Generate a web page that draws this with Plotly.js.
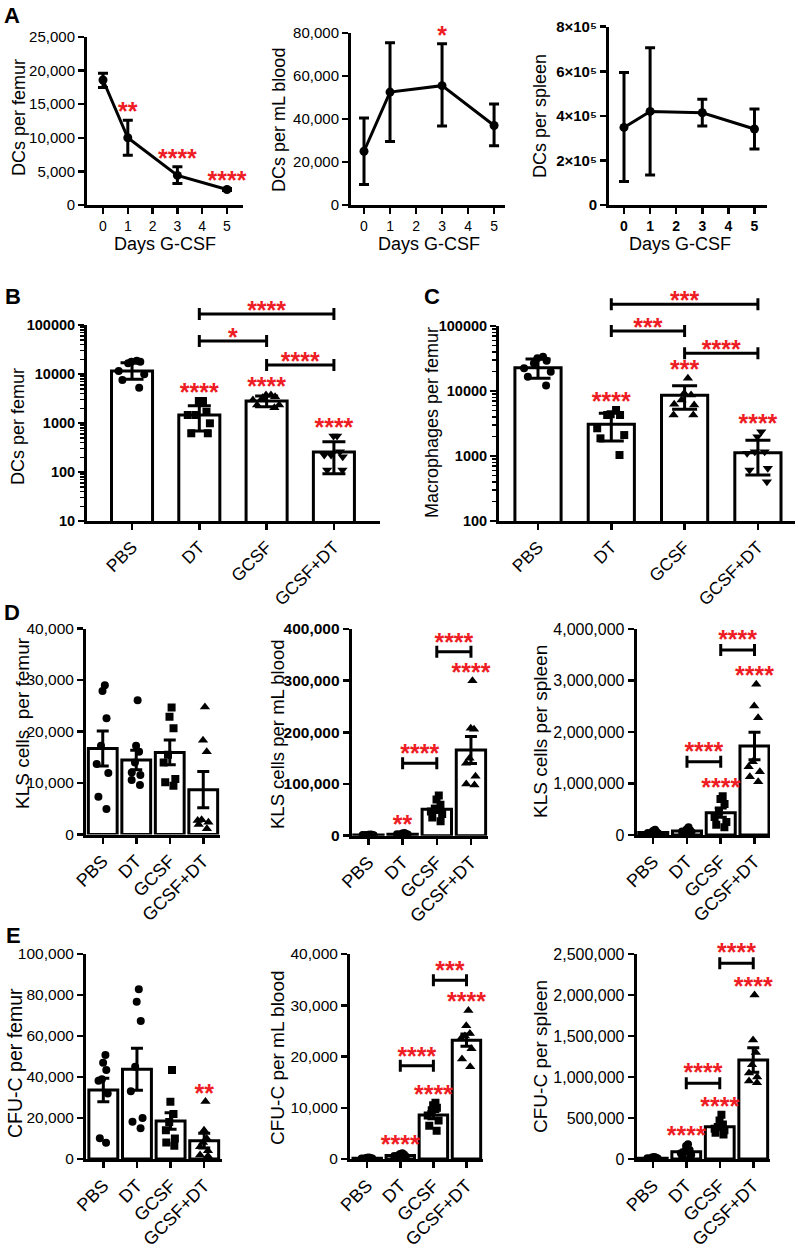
<!DOCTYPE html>
<html><head><meta charset="utf-8">
<script src="https://cdn.plot.ly/plotly-3.0.1.min.js"></script>
<style>html,body{margin:0;padding:0;background:#fff}#chart{width:798px;height:1249px}</style>
</head><body><div id="chart"></div>
<script>
// ================= DATA =================
const groups = ['PBS', 'DT', 'GCSF', 'GCSF+DT'];
const days = [0, 1, 3, 5];
const dayTicks = [0, 1, 2, 3, 4, 5];

// Panel A – DCs over days of G-CSF (mean, error up / down)
const aFemurMean = [18600, 10000, 4400, 2300];
const aFemurErrUp = [1000, 2600, 1300, 150];
const aFemurErrLow = [1100, 2600, 1200, 150];
const aFemurStars = ['', '**', '****', '****'];

const aBloodMean = [25000, 52500, 55500, 37000];
const aBloodErrUp = [15500, 23000, 19500, 10000];
const aBloodErrLow = [15500, 23000, 18800, 9500];
const aBloodStars = ['', '', '*', ''];

const aSpleenMean = [348000, 420000, 414000, 341000];
const aSpleenErrUp = [247000, 286000, 60000, 90000];
const aSpleenErrLow = [243000, 285000, 59500, 90000];
const aSpleenTickVals = [0, 200000, 400000, 600000, 800000];
const aSpleenTickText = ['0', '2×10⁵', '4×10⁵', '6×10⁵', '8×10⁵'];

// Panel B – DCs per femur (log), mean with SD bounds
const bMean = [11500, 1456, 2810, 256];
const bUpper = [17000, 2250, 3560, 416];
const bLower = [7800, 687, 2150, 92];
const bPBS = [16500, 17800, 17800, 18700, 11500, 9860, 7550, 5250];
const bDT = [2810, 2810, 1700, 1456, 1456, 986, 617, 617];
const bGCSF = [3720, 3440, 3290, 3720, 2940, 2330, 2050, 2330];
const bGCSFDT = [543, 543, 259, 222, 222, 205, 110, 110];
const bStars = ['', '****', '****', '****'];
const bBrackets = [[1, 3, 167600, '****'], [1, 2, 47100, '*'], [2, 3, 15270, '****']];
const logTickVals = [10, 100, 1000, 10000, 100000];
const logTickText = ['10', '100', '1000', '10000', '100000'];

// Panel C – Macrophages per femur (log)
const cMean = [22850, 3070, 8590, 1124];
const cUpper = [31000, 4540, 12070, 1743];
const cLower = [15700, 1700, 5230, 510];
const cPBS = [33700, 31800, 29300, 26700, 22300, 19800, 16600, 12100];
const cDT = [4390, 4270, 4270, 5100, 2100, 1870, 2670, 1035];
const cGCSF = [9230, 8670, 15700, 6240, 7280, 4270, 4270, 6100];
const cGCSFDT = [2370, 1980, 1165, 1165, 1100, 610, 403, 647];
const cStars = ['', '****', '***', '****'];
const cBrackets = [[1, 3, 215800, '***'], [1, 2, 83800, '***'], [2, 3, 38000, '****']];

// Panel D – KLS cells (mean ± SEM)
const dFemurMean = [16710, 14450, 15940, 8710];
const dFemurSem = [3400, 1900, 2400, 3500];
const dFemurPBS = [27870, 28970, 22580, 17230, 13680, 11940, 7350, 4970];
const dFemurDT = [26060, 16060, 17230, 14000, 11550, 12060, 9610, 10580];
const dFemurGCSF = [24650, 22840, 20650, 15500, 14000, 10770, 10130, 9480];
const dFemurGCSFDT = [24770, 18320, 16060, 2840, 2710, 1100, 2400, 1940];

const dBloodMean = [1500, 3000, 51000, 165800];
const dBloodSem = [300, 500, 6000, 26000];
const dBloodPBS = [2500, 2000, 1800, 1500, 1200, 1000, 800, 600];
const dBloodDT = [5000, 4200, 3500, 3000, 2600, 2200, 1800, 1400];
const dBloodGCSF = [78000, 70000, 60000, 52000, 47000, 42000, 35000, 28000];
const dBloodGCSFDT = [300000, 208000, 206000, 150000, 140000, 115000, 100000, 98000];
const dBloodStars = ['', '**', '', '****'];
const dBloodBrackets = [[2, 3, 356100, '****'], [1, 2, 140000, '****']];

const dSpleenMean = [50000, 80000, 433700, 1728000];
const dSpleenSem = [10000, 12000, 90000, 265000];
const dSpleenPBS = [100000, 80000, 60000, 50000, 40000, 30000, 20000, 10000];
const dSpleenDT = [150000, 110000, 90000, 80000, 70000, 60000, 50000, 40000];
const dSpleenGCSF = [750000, 700000, 600000, 450000, 350000, 250000, 200000, 150000];
const dSpleenGCSFDT = [2925000, 2505000, 2278000, 1424000, 1327000, 1230000, 1133000, 1036000];
const dSpleenStars = ['', '', '****', '****'];
const dSpleenBrackets = [[2, 3, 3592000, '****'], [1, 2, 1424000, '****']];

// Panel E – CFU-C (mean ± SEM)
const eFemurMean = [33660, 43740, 18540, 8940];
const eFemurSem = [5690, 10240, 4060, 3580];
const eFemurPBS = [50730, 47000, 43400, 38860, 38200, 32000, 10080, 7970];
const eFemurDT = [82760, 76750, 67320, 45000, 33000, 20000, 18200, 14960];
const eFemurGCSF = [43400, 27970, 22000, 18000, 14000, 10000, 8000, 6500];
const eFemurGCSFDT = [28000, 14000, 10000, 8000, 6000, 4000, 2000, 1500];
const eFemurStars = ['', '', '', '**'];

const eBloodMean = [150, 700, 8570, 23180];
const eBloodSem = [30, 100, 700, 1200];
const eBloodPBS = [300, 250, 200, 150, 100, 80, 60, 50];
const eBloodDT = [1100, 1000, 900, 750, 600, 500, 400, 300];
const eBloodGCSF = [11000, 10500, 10000, 9500, 8500, 7500, 6500, 5500];
const eBloodGCSFDT = [29000, 26000, 24500, 24000, 23500, 21500, 19500, 18000];
const eBloodStars = ['', '****', '****', '****'];
const eBloodBrackets = [[2, 3, 34870, '***'], [1, 2, 18180, '****']];

const eSpleenMean = [10000, 89400, 394300, 1207300];
const eSpleenSem = [2000, 20000, 25000, 150000];
const eSpleenPBS = [25000, 20000, 15000, 10000, 8000, 5000, 3000, 2000];
const eSpleenDT = [180000, 160000, 110000, 90000, 70000, 50000, 30000, 20000];
const eSpleenGCSF = [540000, 470000, 420000, 390000, 370000, 350000, 320000, 300000];
const eSpleenGCSFDT = [2000000, 1450000, 1300000, 1150000, 1050000, 1000000, 950000, 930000];
const eSpleenStars = ['', '****', '****', '****'];
const eSpleenBrackets = [[2, 3, 2386000, '****'], [1, 2, 922800, '****']];

// ================= LAYOUT / STYLE =================
const F = 'Liberation Sans, Arial, Helvetica, sans-serif';
const RED = '#ee1c24';
const W = 798, H = 1249;
const STAR = 25;
const GLYPH = 0.31 * STAR;
const SIG_EXTRA = 42;   // extra room (px) above each plot for significance marks

const P = {
  A1: {n: 1, box: [87, 243, 37, 205], xr: [-0.645, 5.645], yr: [0, 25000]},
  A2: {n: 2, box: [351, 505, 33, 205], xr: [-0.5, 5.42], yr: [0, 80000]},
  A3: {n: 3, box: [609, 767, 26.7, 205], xr: [-0.575, 5.48], yr: [0, 800000]},
  B:  {n: 4, box: [87, 380, 325, 521], xr: [-0.669, 3.685], yr: [1, 5], log: true},
  C:  {n: 5, box: [499, 795, 326, 521], xr: [-0.532, 3.506], yr: [2, 5], log: true},
  D1: {n: 6, box: [86, 220, 628.5, 834.5], xr: [-0.5, 3.5], yr: [0, 40000]},
  D2: {n: 7, box: [351.7, 487.7, 629, 835.7], xr: [-0.49, 3.49], yr: [0, 400000]},
  D3: {n: 8, box: [636.7, 770, 629, 835], xr: [-0.49, 3.46], yr: [0, 4000000]},
  E1: {n: 9, box: [86, 221.7, 954, 1159], xr: [-0.515, 3.52], yr: [0, 100000]},
  E2: {n: 10, box: [350, 482.7, 954, 1159], xr: [-0.52, 3.49], yr: [0, 40000]},
  E3: {n: 11, box: [636.7, 770, 954, 1159], xr: [-0.48, 3.5], yr: [0, 2500000]}
};

const layout = {
  width: W, height: H, margin: {l: 0, r: 0, t: 0, b: 0},
  paper_bgcolor: '#fff', plot_bgcolor: 'rgba(0,0,0,0)',
  showlegend: false, barmode: 'overlay',
  font: {family: F, color: '#000'},
  annotations: []
};
const traces = [];

function axisBase(extra) {
  return Object.assign({
    showline: true, linewidth: 3, linecolor: '#000',
    ticks: 'outside', ticklen: 6, tickwidth: 2.5, tickcolor: '#000',
    showgrid: false, zeroline: false, fixedrange: true
  }, extra);
}
function perPx(p) { const [l, r, t, b] = p.box; return (p.yr[1] - p.yr[0]) / (b - t); }
function addAxes(p, xopt, yopt) {
  const [l, r, t, b] = p.box;
  const s = p.n === 1 ? '' : String(p.n);
  p.xref = 'x' + s; p.yref = 'y' + s;
  layout['xaxis' + s] = axisBase(Object.assign({domain: [l / W, r / W], range: p.xr, anchor: p.yref}, xopt));
  layout['yaxis' + s] = axisBase(Object.assign({domain: [1 - b / H, 1 - t / H], range: p.yr, anchor: p.xref, type: p.log ? 'log' : 'linear'}, yopt));
  // hidden companion axes with the same scale, taller, for stars & brackets
  const s2 = String(p.n + 20);
  p.sxref = 'x' + s2; p.syref = 'y' + s2;
  const ext = Math.min(SIG_EXTRA, t);
  layout['xaxis' + s2] = {domain: [l / W, r / W], range: p.xr, anchor: p.syref, visible: false, fixedrange: true};
  layout['yaxis' + s2] = {domain: [1 - b / H, 1 - (t - ext) / H], range: [p.yr[0], p.yr[1] + ext * perPx(p)],
    anchor: p.sxref, type: p.log ? 'log' : 'linear', visible: false, fixedrange: true};
}
function shiftUp(p, v, px) {
  const per = perPx(p);
  return p.log ? Math.pow(10, Math.log10(v) + px * per) : v + px * per;
}
function textTrace(p, x, y, text) {
  return {type: 'scatter', mode: 'text', x: x, y: y, text: text, textposition: 'middle center',
    textfont: {family: F, size: STAR, color: RED, weight: 'bold'}, cliponaxis: false,
    hoverinfo: 'skip', xaxis: p.sxref, yaxis: p.syref};
}
function starTrace(p, xs, anchors, labels, offsetPx) {
  const x = [], y = [], t = [];
  labels.forEach((s, i) => { if (s) { x.push(xs[i]); y.push(shiftUp(p, anchors[i], offsetPx - GLYPH)); t.push(s); } });
  return textTrace(p, x, y, t);
}
function addBrackets(p, list, labelPx) {
  list.forEach(([i, j, lvl]) => {
    traces.push({type: 'scatter', mode: 'markers', x: [(i + j) / 2], y: [lvl],
      marker: {size: 1, color: 'rgba(0,0,0,0)'},
      error_x: {type: 'data', array: [(j - i) / 2], symmetric: true, width: 6, thickness: 3, color: '#000'},
      cliponaxis: false, hoverinfo: 'skip', xaxis: p.sxref, yaxis: p.syref});
  });
  traces.push(textTrace(p, list.map(d => (d[0] + d[1]) / 2), list.map(d => shiftUp(p, d[2], labelPx - GLYPH)), list.map(d => d[3])));
}
function tf(size, bold) { return {family: F, size: size, color: '#000', weight: bold ? 'bold' : 'normal'}; }

// ---------- Panel A ----------
function linePanel(p, mean, up, low, stars, yopt, bold) {
  addAxes(p, {tickmode: 'array', tickvals: dayTicks, ticktext: dayTicks.map(String), tickfont: tf(14, bold)}, yopt);
  traces.push({type: 'scatter', mode: 'lines+markers', x: days, y: mean,
    line: {color: '#000', width: 3}, marker: {symbol: 'circle', size: 9, color: '#000'},
    error_y: {type: 'data', symmetric: false, array: up, arrayminus: low, color: '#000', thickness: 3, width: 5},
    cliponaxis: false, xaxis: p.xref, yaxis: p.yref, hoverinfo: 'x+y'});
  if (stars.some(s => s)) traces.push(starTrace(p, days, mean.map((m, i) => m + up[i]), stars, 14));
}
linePanel(P.A1, aFemurMean, aFemurErrUp, aFemurErrLow, aFemurStars, {dtick: 5000, tickformat: ',d', tickfont: tf(15, false)}, false);
linePanel(P.A2, aBloodMean, aBloodErrUp, aBloodErrLow, aBloodStars, {dtick: 20000, tickformat: ',d', tickfont: tf(15, false)}, false);
linePanel(P.A3, aSpleenMean, aSpleenErrUp, aSpleenErrLow, ['', '', '', ''], {tickmode: 'array', tickvals: aSpleenTickVals, ticktext: aSpleenTickText, tickfont: tf(15, true)}, true);

// ---------- Bar panels ----------
function barPanel(p, o) {
  const xs = groups.map((g, i) => i);
  addAxes(p, {tickmode: 'array', tickvals: xs, ticktext: groups, tickangle: -45, tickfont: tf(o.xfont, false)}, o.yopt);
  traces.push({type: 'bar', x: xs, y: o.mean, width: o.barW,
    marker: {color: '#fff', line: {color: '#000', width: 3}},
    error_y: {type: 'data', symmetric: false, array: o.up, arrayminus: o.low, color: '#000', thickness: 3, width: o.capW},
    xaxis: p.xref, yaxis: p.yref, hoverinfo: 'y'});
  o.pts.forEach((arr, g) => {
    traces.push({type: 'box', x: arr.map(() => g), y: arr, width: o.barW,
      boxpoints: 'all', jitter: o.jitter, pointpos: 0, whiskerwidth: 0,
      line: {width: 0, color: 'rgba(0,0,0,0)'}, fillcolor: 'rgba(0,0,0,0)',
      marker: {symbol: o.symbols[g], size: o.symbols[g].indexOf('triangle') === 0 ? 9 : 8, color: '#000', line: {width: 0}},
      hoverinfo: 'y', xaxis: p.xref, yaxis: p.yref});
  });
  const anchors = o.mean.map((m, g) => Math.max(m + o.up[g], Math.max.apply(null, o.pts[g])));
  if (o.stars) traces.push(starTrace(p, xs, anchors, o.stars, 14));
  if (o.brackets) addBrackets(p, o.brackets, o.labelPx);
}
const symBC = ['circle', 'square', 'triangle-up', 'triangle-down'];
const symDE = ['circle', 'circle', 'square', 'triangle-up'];
const logY = (size) => ({tickmode: 'array', tickvals: logTickVals, ticktext: logTickText, tickfont: tf(size, true),
  minor: {ticks: 'outside', ticklen: 4, tickwidth: 1.5, tickcolor: '#000', dtick: 'D1', showgrid: false}});

barPanel(P.B, {mean: bMean, up: bUpper.map((u, i) => u - bMean[i]), low: bMean.map((m, i) => m - bLower[i]),
  pts: [bPBS, bDT, bGCSF, bGCSFDT], symbols: symBC, barW: 0.61, capW: 11.5, jitter: 0.8, xfont: 17.5,
  stars: bStars, brackets: bBrackets, labelPx: 9, yopt: logY(14.5)});
barPanel(P.C, {mean: cMean, up: cUpper.map((u, i) => u - cMean[i]), low: cMean.map((m, i) => m - cLower[i]),
  pts: [cPBS, cDT, cGCSF, cGCSFDT], symbols: symBC, barW: 0.63, capW: 12.5, jitter: 0.75, xfont: 17.5,
  stars: cStars, brackets: cBrackets, labelPx: 9, yopt: logY(14.5)});

const lin = (dtick, size, bold) => ({dtick: dtick, tickformat: ',d', tickfont: tf(size, bold)});
barPanel(P.D1, {mean: dFemurMean, up: dFemurSem, low: dFemurSem, pts: [dFemurPBS, dFemurDT, dFemurGCSF, dFemurGCSFDT],
  symbols: symDE, barW: 0.86, capW: 6, jitter: 0.5, xfont: 18, yopt: lin(10000, 15.5, false)});
barPanel(P.D2, {mean: dBloodMean, up: dBloodSem, low: dBloodSem, pts: [dBloodPBS, dBloodDT, dBloodGCSF, dBloodGCSFDT],
  symbols: symDE, barW: 0.86, capW: 6, jitter: 0.5, xfont: 18, stars: dBloodStars, brackets: dBloodBrackets, labelPx: 15, yopt: lin(100000, 15.5, true)});
barPanel(P.D3, {mean: dSpleenMean, up: dSpleenSem, low: dSpleenSem, pts: [dSpleenPBS, dSpleenDT, dSpleenGCSF, dSpleenGCSFDT],
  symbols: symDE, barW: 0.86, capW: 6, jitter: 0.5, xfont: 18, stars: dSpleenStars, brackets: dSpleenBrackets, labelPx: 16, yopt: lin(1000000, 16, false)});
barPanel(P.E1, {mean: eFemurMean, up: eFemurSem, low: eFemurSem, pts: [eFemurPBS, eFemurDT, eFemurGCSF, eFemurGCSFDT],
  symbols: symDE, barW: 0.86, capW: 6, jitter: 0.5, xfont: 18, stars: eFemurStars, yopt: lin(20000, 15.5, false)});
barPanel(P.E2, {mean: eBloodMean, up: eBloodSem, low: eBloodSem, pts: [eBloodPBS, eBloodDT, eBloodGCSF, eBloodGCSFDT],
  symbols: symDE, barW: 0.86, capW: 6, jitter: 0.5, xfont: 18, stars: eBloodStars, brackets: eBloodBrackets, labelPx: 15, yopt: lin(10000, 15.5, false)});
barPanel(P.E3, {mean: eSpleenMean, up: eSpleenSem, low: eSpleenSem, pts: [eSpleenPBS, eSpleenDT, eSpleenGCSF, eSpleenGCSFDT],
  symbols: symDE, barW: 0.86, capW: 6, jitter: 0.5, xfont: 18, stars: eSpleenStars, brackets: eSpleenBrackets, labelPx: 16, yopt: lin(500000, 16, false)});

// ---------- Titles & panel letters ----------
function note(text, px, py, size, angle, bold) {
  layout.annotations.push({text: text, xref: 'paper', yref: 'paper', x: px / W, y: 1 - py / H,
    xanchor: 'center', yanchor: 'middle', showarrow: false, textangle: angle || 0,
    font: {family: F, size: size, color: '#000', weight: bold ? 'bold' : 'normal'}});
}
note('DCs per femur', 19, 118, 18, -90);
note('DCs per mL blood', 279, 120, 18, -90);
note('DCs per spleen', 540, 116, 18, -90);
note('Days G-CSF', 165, 244, 18);
note('Days G-CSF', 429, 244, 18);
note('Days G-CSF', 680, 244, 18);
note('DCs per femur', 18, 427, 18, -90);
note('Macrophages per femur', 432, 423, 18, -90);
note('KLS cells  per femur', 22, 723, 19, -90);
note('KLS cells per mL blood', 277, 734, 18.5, -90);
note('KLS cells per spleen', 540, 732, 19, -90);
note('CFU-C per femur', 15, 1063, 19.5, -90);
note('CFU-C per mL blood', 277, 1058, 19, -90);
note('CFU-C per spleen', 540, 1057, 19, -90);
note('A', 12, 16, 22, 0, true);
note('B', 12.5, 297, 22, 0, true);
note('C', 432, 297, 22, 0, true);
note('D', 12, 612, 22, 0, true);
note('E', 13, 935, 22, 0, true);

Plotly.newPlot('chart', traces, layout, {staticPlot: true, displayModeBar: false});
</script>
</body></html>
